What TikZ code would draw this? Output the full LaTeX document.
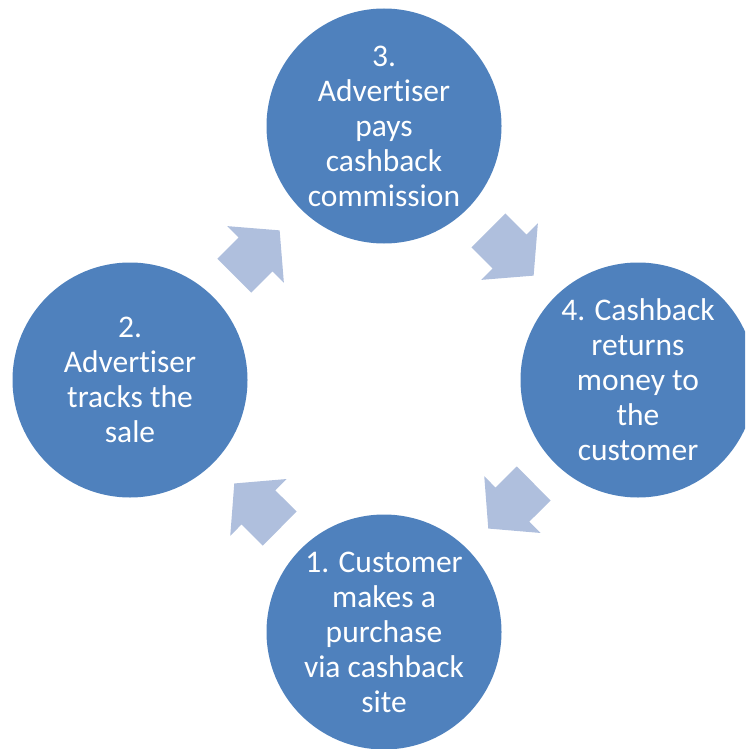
\documentclass[tikz,border=0pt]{standalone}
\usepackage{fontspec}
\setmainfont{Carlito}[Ligatures={NoCommon,NoContextual}]
\usetikzlibrary{calc}
\definecolor{circblue}{HTML}{4F81BD}
\definecolor{arrowblue}{RGB}{175,191,221}
\tikzset{
  stepcircle/.style={circle, fill=circblue, draw=none, minimum size=235pt, inner sep=0pt,
    text=white, align=center, font=\fontsize{31.5}{35}\selectfont},
  arrowfill/.style={fill=arrowblue, draw=none}
}
\newcommand\cyclearrow[2]{%
  \coordinate (m) at ($(#1.center)!0.5!(#2.center)$);
  \coordinate (tl) at ($(m)!32pt!180:(#2.center)$);
  \coordinate (hb) at ($(m)!2pt!180:(#2.center)$);
  \coordinate (tp) at ($(m)!32pt!(#2.center)$);
  \fill[arrowfill] ($(tl)!24pt!90:(#2.center)$) -- ($(hb)!24pt!90:(#2.center)$)
    -- ($(hb)!40pt!90:(#2.center)$) -- (tp) -- ($(hb)!40pt!-90:(#2.center)$)
    -- ($(hb)!24pt!-90:(#2.center)$) -- ($(tl)!24pt!-90:(#2.center)$) -- cycle;
}
\begin{document}
\begin{tikzpicture}[x=1pt,y=-1pt]
\useasboundingbox (0,0) rectangle (745,749);
\clip (0,0) rectangle (745,749);
\node[stepcircle] (s3) at (384,126) {3.\\Advertiser\\pays\\cashback\\commission};
\node[stepcircle] (s2) at (130,380) {2.\\Advertiser\\tracks the\\sale};
\node[stepcircle] (s4) at (638,380) {4. Cashback\\returns\\money to\\the\\customer};
\node[stepcircle] (s1) at (384,632) {1. Customer\\makes a\\purchase\\via cashback\\site};
\cyclearrow{s2}{s3}
\cyclearrow{s3}{s4}
\cyclearrow{s4}{s1}
\cyclearrow{s1}{s2}
\end{tikzpicture}
\end{document}
